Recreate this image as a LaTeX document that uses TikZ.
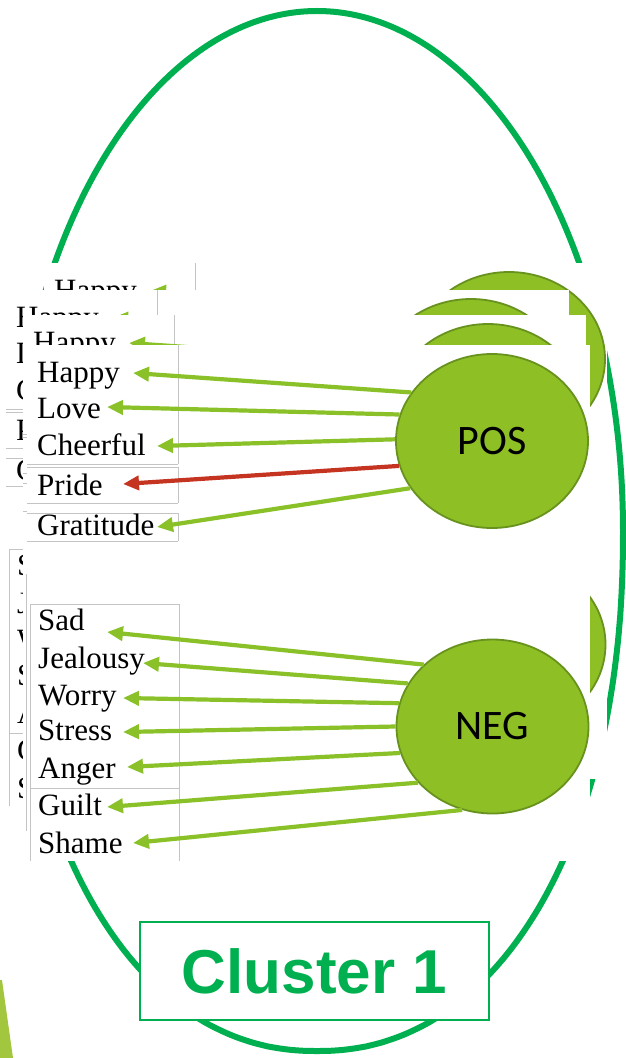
\documentclass[tikz,border=0pt]{standalone}
\usepackage{fontspec}
\setmainfont{Liberation Serif}
\newfontfamily\circfont{Carlito}
\newfontfamily\clusterfont{Liberation Sans}
\usetikzlibrary{shapes.geometric, arrows.meta}

\definecolor{ringgreen}{RGB}{0,176,80}
\definecolor{leafgreen}{RGB}{142,192,38}
\definecolor{leafedge}{RGB}{104,146,30}
\definecolor{arrowgreen}{RGB}{138,193,40}
\definecolor{arrowred}{RGB}{196,52,32}
\definecolor{tablegray}{RGB}{196,196,196}
\definecolor{sliver}{RGB}{162,199,62}

\tikzset{
  word/.style={font=\fontsize{31}{37}\selectfont, inner sep=0pt, anchor=base west},
  emo/.style={ellipse, fill=leafgreen, draw=leafedge, line width=1.8pt,
    minimum width=192pt, minimum height=174pt, inner sep=0pt,
    font=\circfont\fontsize{42}{50}\selectfont},
  link/.style={draw=arrowgreen, line width=4.2pt, -{Triangle[length=16pt,width=14pt]}},
  redlink/.style={link, draw=arrowred},
  rule/.style={draw=tablegray, line width=0.9pt},
  sheet/.style={fill=white},
}

% one copy of the emotion slide, shifted by (#2,#3), node names prefixed by #1
\newcommand\emotionslide[3]{%
\begin{scope}[shift={(#2,#3)}, name prefix=#1-]
  \fill[sheet] (27,345) rectangle (590,861);
  % word table rules
  \draw[rule] (178,345) -- (178,464) (27,464) -- (178,464)
              (27,467) -- (178,467) -- (178,503) (27,503) -- (178,503)
              (27,513) -- (178,513) -- (178,541) (27,541) -- (178,541);
  \draw[rule] (30,861) -- (30,604) -- (179,604) -- (179,861)
              (30,788) -- (179,788);
  % positive words
  \node[word] (happy) at (37,382) {Happy};
  \node[word] (love)  at (37,418) {Love};
  \node[word] (cheer) at (37,455) {Cheerful};
  \node[word] (pride) at (37,495) {Pride};
  \node[word] (grat)  at (37,535) {Gratitude};
  % negative words
  \node[word] (sad)    at (38,630) {Sad};
  \node[word] (jeal)   at (38,668) {Jealousy};
  \node[word] (worry)  at (38,705) {Worry};
  \node[word] (stress) at (38,740) {Stress};
  \node[word] (anger)  at (38,778) {Anger};
  \node[word] (guilt)  at (38,815) {Guilt};
  \node[word] (shame)  at (38,853) {Shame};
  % arrow tips next to the words
  \coordinate (happytip) at (133,373);
  \coordinate (lovetip)  at (107,407);
  \coordinate (cheertip) at (157,446);
  \coordinate (pridetip) at (123,484);
  \coordinate (grattip)  at (157,527);
  \coordinate (sadtip)    at (107,632);
  \coordinate (jealtip)   at (143,663);
  \coordinate (worrytip)  at (123,698);
  \coordinate (stresstip) at (123,732);
  \coordinate (angertip)  at (127,767);
  \coordinate (guilttip)  at (107,807);
  \coordinate (shametip)  at (133,843);
  % category circles
  \node[emo] (pos) at (492,441) {POS};
  \node[emo] (neg) at (492.5,726.5) {NEG};
  % links from categories to words
  \draw[link]    (pos.149) -- (happytip);
  \draw[link]    (pos.164) -- (lovetip);
  \draw[link]    (pos.179) -- (cheertip);
  \draw[redlink] (pos.195) -- (pridetip);
  \draw[link]    (pos.210) -- (grattip);
  \draw[link] (neg.138) -- (sadtip);
  \draw[link] (neg.153) -- (jealtip);
  \draw[link] (neg.166) -- (worrytip);
  \draw[link] (neg.180) -- (stresstip);
  \draw[link] (neg.196) -- (angertip);
  \draw[link] (neg.217) -- (guilttip);
  \draw[link] (neg.250) -- (shametip);
\end{scope}}

\begin{document}
\begin{tikzpicture}[x=1pt, y=-1pt]
  \useasboundingbox (0,0) rectangle (626,1058);
  % slanted background strip at the lower left
  \fill[sliver] (0,980) -- (2,980) -- (13,1058) -- (0,1058) -- cycle;
  % cluster outline, fuller towards the bottom
  \draw[ringgreen, line width=6pt, line join=round]
    plot[domain=0:360, samples=361, variable=\t]
      ({317+306*sign(cos(\t))*pow(abs(cos(\t))+0.00001, ifthenelse(\t<180,0.93,1))},
       {531+520*sign(sin(\t))*pow(abs(sin(\t))+0.00001, ifthenelse(\t<180,0.93,1))}) -- cycle;
  % stacked copies of the slide, back to front
  \emotionslide{a}{17}{-82}
  \emotionslide{b}{-21}{-55}
  \emotionslide{c}{-4}{-30}
  \emotionslide{d}{0}{0}
  % cluster caption
  \node[draw=ringgreen, line width=2pt, fill=white, minimum width=349pt,
        minimum height=98pt, inner sep=0pt, text=ringgreen,
        font=\clusterfont\bfseries\fontsize{62}{70}\selectfont]
        (cluster) at (314.5,971) {Cluster 1};
\end{tikzpicture}
\end{document}
